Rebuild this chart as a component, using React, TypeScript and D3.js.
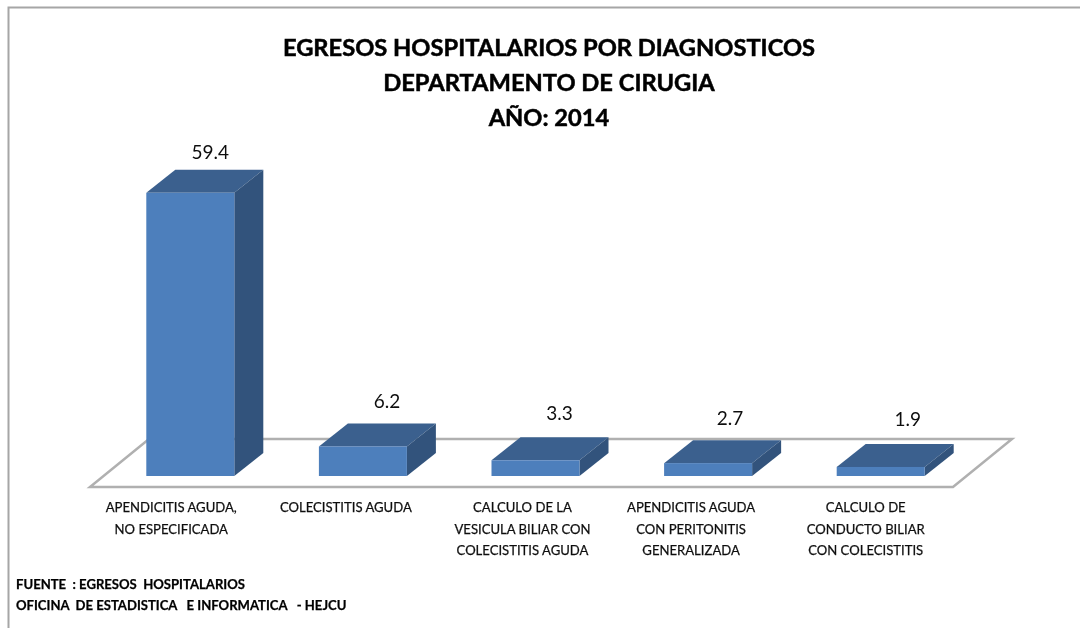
import * as d3 from 'd3';

const categories = [
  ['APENDICITIS AGUDA,', 'NO ESPECIFICADA'],
  ['COLECISTITIS AGUDA'],
  ['CALCULO DE LA', 'VESICULA BILIAR CON', 'COLECISTITIS AGUDA'],
  ['APENDICITIS AGUDA', 'CON PERITONITIS', 'GENERALIZADA'],
  ['CALCULO DE', 'CONDUCTO BILIAR', 'CON COLECISTITIS'],
];
const values = [59.4, 6.2, 3.3, 2.7, 1.9];
const titleLines = ['EGRESOS HOSPITALARIOS POR DIAGNOSTICOS', 'DEPARTAMENTO DE CIRUGIA', 'AÑO: 2014'];
const sourceLines = ['FUENTE  : EGRESOS  HOSPITALARIOS', 'OFICINA  DE ESTADISTICA   E INFORMATICA   - HEJCU'];

const FONT = 'Lato, "Open Sans", sans-serif';
const FRONT = '#4d7fbc';
const TOP = '#3b608e';
const SIDE = '#31527b';

// floor parallelogram and bar depth, in the skew of the old 3D chart
const floor = { left: 90, right: 953, y: 487, dx: 59, dy: 48 };
const bar = { dx: 29, dy: 23, inX: 14, inY: 11, width: 88 };

// the source chart's labels were hand placed, so they don't sit evenly
const valueNudge = [[-4, 0], [0, 4], [0, 6], [-2, 4], [3, 7]];
const categoryNudge = [-5, -3, 1, -3, -1];

export default function App() {
  const x = d3.scaleBand<number>()
    .domain(d3.range(values.length))
    .range([floor.left, floor.right]);
  const h = d3.scaleLinear().domain([0, 60]).range([0, 286]);
  const path = d3.line();

  const base = floor.y - bar.inY;

  return (
    <svg width={1080} height={628} style={{ position: 'absolute', left: 0, top: 0, background: '#fff' }} fontFamily={FONT}>
      <defs>
        <filter id="soft" x="0" y="0" width="1080" height="628" filterUnits="userSpaceOnUse">
          <feGaussianBlur stdDeviation={0.55} />
        </filter>
      </defs>
      <g filter="url(#soft)">
        {/* outer frame */}
        <path d="M8.5,628V7.5H1080" fill="none" stroke="#a6a6a6" strokeWidth={2} />

        {titleLines.map((t, i) => (
          <text key={t} x={549} y={55.5 + i * 35.3} textAnchor="middle" fontSize={23.7} fontWeight={700} fill="#000" stroke="#000" strokeWidth={0.5}>{t}</text>
        ))}

        {/* floor */}
        <path
          d={path([
            [floor.left, floor.y],
            [floor.right, floor.y],
            [floor.right + floor.dx, floor.y - floor.dy],
            [floor.left + floor.dx, floor.y - floor.dy],
          ])! + 'Z'}
          fill="#fff"
          stroke="#b0b0b0"
          strokeWidth={2.5}
        />

        {values.map((v, i) => {
          const center = x(i)! + x.bandwidth() / 2 + bar.inX;
          const x0 = center - bar.width / 2;
          const x1 = center + bar.width / 2;
          const top = base - h(v);
          const [nx, ny] = valueNudge[i];
          return (
            <g key={i}>
              <path d={path([[x0, top], [x1, top], [x1 + bar.dx, top - bar.dy], [x0 + bar.dx, top - bar.dy]])! + 'Z'} fill={TOP} />
              <path d={path([[x1, top], [x1, base], [x1 + bar.dx, base - bar.dy], [x1 + bar.dx, top - bar.dy]])! + 'Z'} fill={SIDE} />
              <rect x={x0} y={top} width={bar.width} height={base - top} fill={FRONT} />
              <text x={center + bar.dx - 5 + nx} y={top - bar.dy - 11 - ny} textAnchor="middle" fontSize={19} fill="#111">{v.toFixed(1)}</text>
            </g>
          );
        })}

        {categories.map((lines, i) => (
          <text key={i} textAnchor="middle" fontSize={13.1} fill="#111" stroke="#111" strokeWidth={0.25}>
            {lines.map((l, j) => (
              <tspan key={l} x={x(i)! + x.bandwidth() / 2 + categoryNudge[i]} y={512 + j * 21.5}>{l}</tspan>
            ))}
          </text>
        ))}

        {sourceLines.map((t, i) => (
          <text key={t} x={16} y={589 + i * 20.5} fontSize={13.1} fontWeight={700} fill="#000" stroke="#000" strokeWidth={0.25} style={{ whiteSpace: 'pre' }}>{t}</text>
        ))}
      </g>
    </svg>
  );
}
